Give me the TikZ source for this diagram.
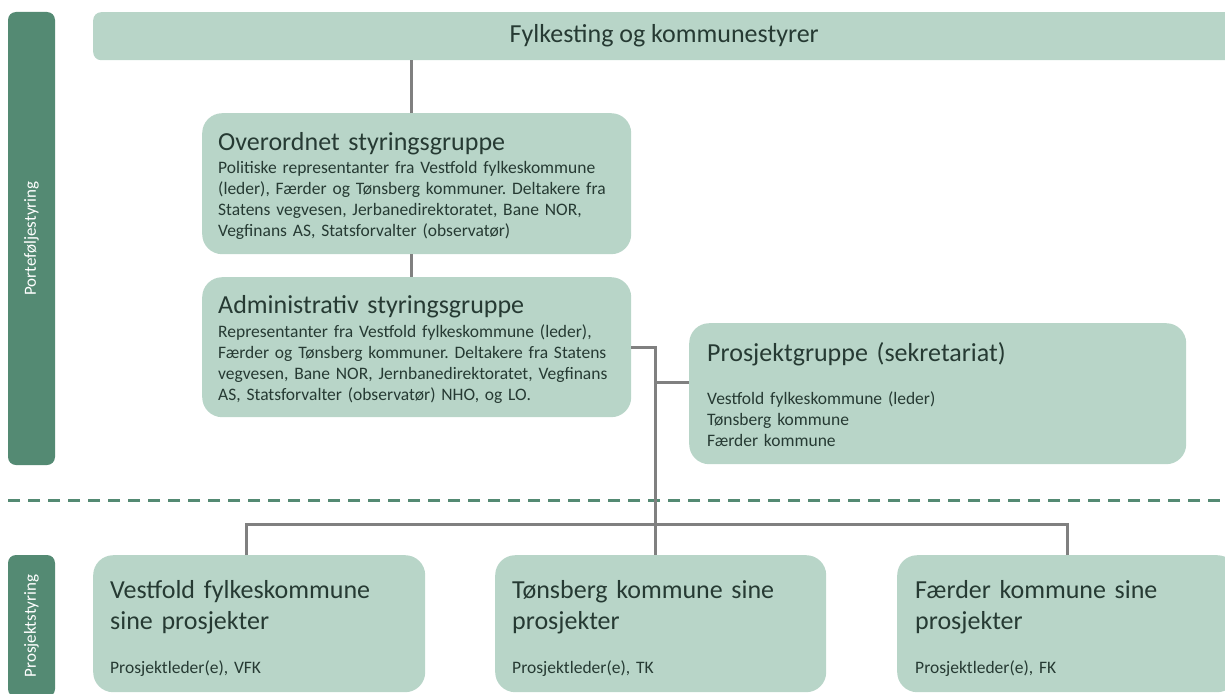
\documentclass[tikz,border=0pt]{standalone}
\usepackage{fontspec}
\setmainfont{Carlito}
\usepackage{xcolor}
\usepackage{tikz}
\usetikzlibrary{calc}
\usetikzlibrary{positioning}
\definecolor{boxgreen}{RGB}{184,213,200}
\definecolor{bargreen}{RGB}{84,138,115}
\definecolor{txtgreen}{RGB}{38,58,51}
\definecolor{linegray}{RGB}{128,128,128}
\newcommand{\fsz}[2]{\fontsize{#1}{#2}\selectfont}
\frenchspacing
\begin{document}
\begin{tikzpicture}[x=1pt,y=-1pt,
		boxnode/.style={fill=boxgreen,rounded corners=20pt,anchor=north west,inner sep=0pt},
		barnode/.style={fill=bargreen,rounded corners=8pt,rotate=90,text=white,font=\fsz{17}{20},inner sep=0pt},
		titletxt/.style={anchor=base west,inner sep=0pt,text=txtgreen,font=\fsz{26}{31.5},align=left,text width=320pt},
		bodytxt/.style={anchor=base west,inner sep=0pt,text=txtgreen,font=\fsz{17.5}{21},align=left,text width=440pt},
		link/.style={draw=linegray,line width=3pt},
		sepline/.style={draw=bargreen,line width=3pt,dash pattern=on 12pt off 8pt}]
		\useasboundingbox (0,0) rectangle (1225,693);
		\node[barnode,minimum width=453pt,minimum height=47pt] (pf) at (31.5,238.5) {Porteføljestyring};
		\node[barnode,minimum width=142pt,minimum height=47pt] (ps) at (31.5,626) {Prosjektstyring};
		\node[boxnode,rounded corners=8pt,minimum width=1142pt,minimum height=48pt,text=txtgreen,font=\fsz{26}{31}] (ban) at (93,12) {Fylkesting og kommunestyrer};
		\node[boxnode,minimum width=429pt,minimum height=141pt] (ov) at (202,113) {};
		\node[boxnode,minimum width=429pt,minimum height=140pt] (adm) at (202,277) {};
		\node[boxnode,minimum width=497pt,minimum height=141pt] (pg) at (689,323) {};
		\node[boxnode,minimum width=332pt,minimum height=137pt] (vfk) at (93,555) {};
		\node[boxnode,minimum width=331pt,minimum height=137pt] (tk) at (495,555) {};
		\node[boxnode,minimum width=340pt,minimum height=137pt] (fk) at (897,555) {};
		\draw[sepline] (8,500) -- (1225,500);
		\draw[link] ([xshift=-5pt]ov.north) -- ++(0,-53);
		\draw[link] ([xshift=-5pt]ov.south) -- ([xshift=-5pt]adm.north);
		\draw[link] (adm.east) -| ([xshift=-5.5pt]tk.north);
		\draw[link] ([yshift=11pt]pg.west) -- ++(-34,0);
		\draw[link] ([xshift=-13pt]vfk.north) -- ++(0,-31) -| (fk.north);
		\node[titletxt] (ovt) at (218,150) {Overordnet styringsgruppe};
		\node[bodytxt] (ovb) at (218,173) {Politiske representanter fra Vestfold fylkeskommune\\(leder), Færder og Tønsberg kommuner. Deltakere fra\\Statens vegvesen, Jerbanedirektoratet, Bane NOR,\\Vegfinans AS, Statsforvalter (observatør)};
		\node[titletxt] (admt) at (218,313) {Administrativ styringsgruppe};
		\node[bodytxt] (admb) at (218,337) {Representanter fra Vestfold fylkeskommune (leder),\\Færder og Tønsberg kommuner. Deltakere fra Statens\\vegvesen, Bane NOR, Jernbanedirektoratet, Vegfinans\\AS, Statsforvalter (observatør) NHO, og LO.};
		\node[titletxt,text width=420pt] (pgt) at (707,361) {Prosjektgruppe (sekretariat)};
		\node[bodytxt] (pgb) at (707,404) {Vestfold fylkeskommune (leder)\\Tønsberg kommune\\Færder kommune};
		\node[titletxt] (vfkt) at (110,598) {Vestfold fylkeskommune\\sine prosjekter};
		\node[bodytxt] (vfkb) at (110,673) {Prosjektleder(e), VFK};
		\node[titletxt] (tkt) at (512,598) {Tønsberg kommune sine\\prosjekter};
		\node[bodytxt] (tkb) at (512,673) {Prosjektleder(e), TK};
		\node[titletxt] (fkt) at (915,598) {Færder kommune sine\\prosjekter};
		\node[bodytxt] (fkb) at (915,673) {Prosjektleder(e), FK};
	\end{tikzpicture}
\end{document}
